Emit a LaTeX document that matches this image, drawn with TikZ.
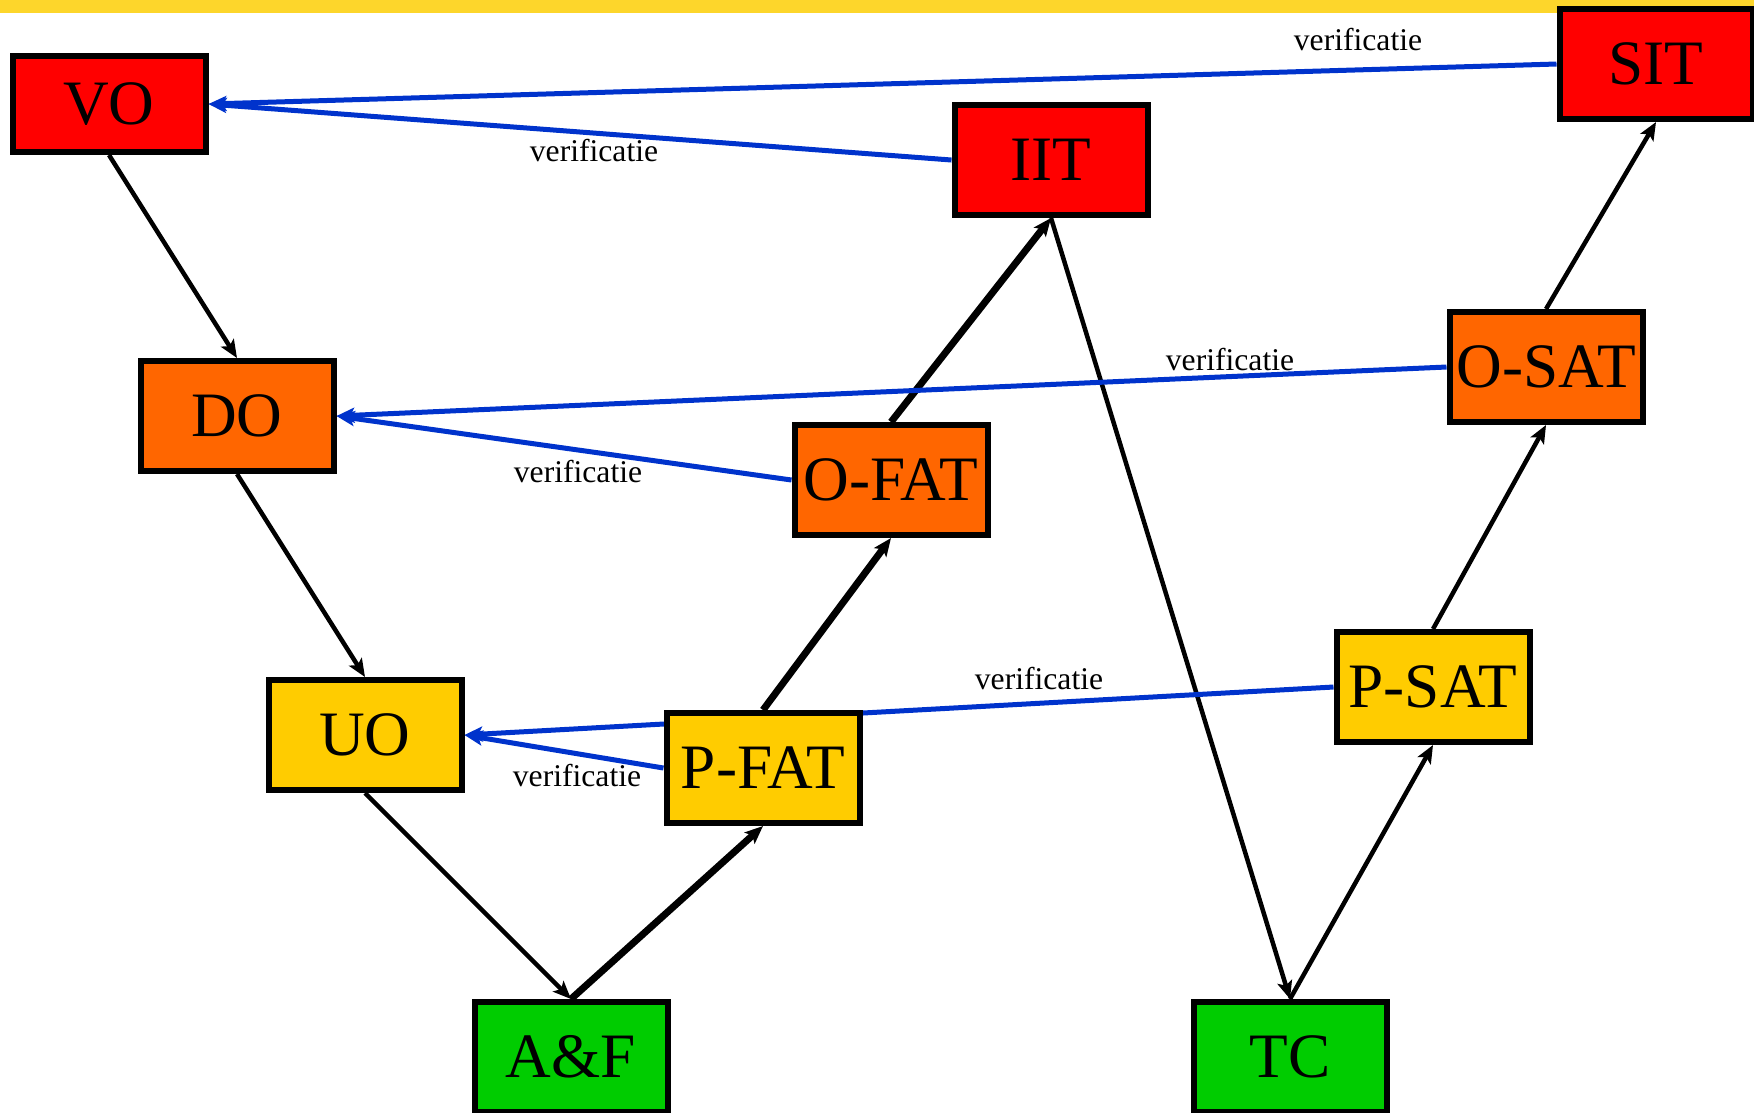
\documentclass[tikz,border=0pt]{standalone}
\usepackage{fontspec}
\setmainfont{Liberation Serif}
\usetikzlibrary{arrows.meta}

\definecolor{balk}{RGB}{253,214,43}
\definecolor{rood}{RGB}{255,0,0}
\definecolor{oranje}{RGB}{255,102,0}
\definecolor{geel}{RGB}{255,204,0}
\definecolor{groen}{RGB}{0,204,0}
\definecolor{blauw}{RGB}{0,51,204}

\pgfdeclarelayer{onder}
\pgfdeclarelayer{midden}
\pgfsetlayers{onder,midden,main}

\tikzset{
  fase/.style={draw=black,line width=0.6mm,minimum width=19.3mm,minimum height=11mm,
    inner sep=0pt,font=\fontsize{18}{20}\selectfont},
  fase1/.style={fase,fill=rood},
  fase2/.style={fase,fill=oranje},
  fase3/.style={fase,fill=geel},
  fase4/.style={fase,fill=groen},
  pijl/.style={-{Stealth[length=1.8mm,width=1.5mm,inset=0.4mm]},line width=0.45mm},
  pijldik/.style={pijl,line width=0.7mm},
  verif/.style={pijl,draw=blauw,line width=0.5mm},
  lbl/.style={inner sep=0pt,font=\fontsize{9}{10}\selectfont}
}

\begin{document}
\begin{tikzpicture}[x=0.1mm,y=-0.1mm]
  \useasboundingbox (0,0) rectangle (1754,1112);

  % fases
  \node[fase1,minimum height=9.6mm] (VO) at (109,104) {VO};
  \node[fase1] (SIT) at (1656,64) {SIT};
  \node[fase1] (IIT) at (1051,160) {IIT};
  \node[fase2] (DO) at (237,416) {DO};
  \node[fase2] (OFAT) at (891,480) {O-FAT};
  \node[fase2] (OSAT) at (1546,367) {O-SAT};
  \node[fase3] (UO) at (365,735) {UO};
  \node[fase3] (PFAT) at (763,768) {P-FAT};
  \node[fase3] (PSAT) at (1433,687) {P-SAT};
  \node[fase4] (AF) at (571,1057) {A\&F};
  \node[fase4] (TC) at (1290,1057) {TC};

  % labels
  \node[lbl] (v1) at (1358,40) {verificatie};
  \node[lbl] (v2) at (594,151) {verificatie};
  \node[lbl] (v3) at (1230,359) {verificatie};
  \node[lbl] (v4) at (578,471) {verificatie};
  \node[lbl] (v5) at (1039,678) {verificatie};
  \node[lbl] (v6) at (577,775) {verificatie};

  \begin{pgfonlayer}{onder}
    \fill[balk] (0,0) rectangle (1754,13);
    % ontwerp naar beneden
    \draw[pijl] (VO.south) -- (DO.north);
    \draw[pijl] (DO.south) -- (UO.north);
    \draw[pijl] (UO.south) -- (AF.north);
    % testen naar boven
    \draw[pijldik] (AF.north) -- (PFAT.south);
    \draw[pijldik] (PFAT.north) -- (OFAT.south);
    \draw[pijldik] (OFAT.north) -- (IIT.south);
    \draw[pijl] (IIT.south) -- (TC.north);
    \draw[pijl] (TC.north) -- (PSAT.south);
    \draw[pijl] (PSAT.north) -- (OSAT.south);
    \draw[pijl] (OSAT.north) -- (SIT.south);
  \end{pgfonlayer}

  \begin{pgfonlayer}{midden}
    \draw[verif] (SIT.west) -- (VO.east);
    \draw[verif] (IIT.west) -- (VO.east);
    \draw[verif] (OSAT.west) -- (DO.east);
    \draw[verif] (OFAT.west) -- (DO.east);
    \draw[verif] (PSAT.west) -- (UO.east);
    \draw[verif] (PFAT.west) -- (UO.east);
  \end{pgfonlayer}
\end{tikzpicture}
\end{document}
